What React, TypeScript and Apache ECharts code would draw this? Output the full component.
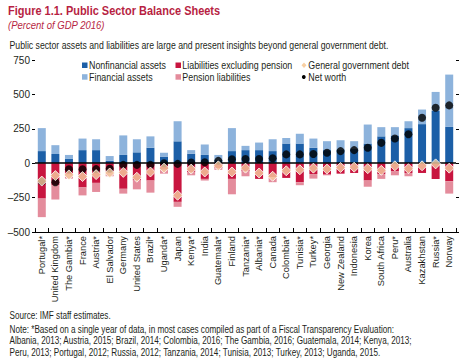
import React, { useEffect, useRef } from "react";
import * as echarts from "echarts";

const countries = [
  "Portugal*", "United Kingdom", "The Gambia*", "France", "Austria*", "El Salvador",
  "Germany", "United States", "Brazil*", "Uganda*", "Japan", "Kenya*", "India",
  "Guatemala*", "Finland", "Tanzania*", "Albania*", "Canada", "Colombia*", "Tunisia*",
  "Turkey*", "Georgia", "New Zealand", "Indonesia", "Korea", "South Africa", "Peru*",
  "Australia", "Kazakhstan", "Russia*", "Norway",
];
const nonfinancialAssets = [88, 67, 31, 95, 95, 17, 60, 79, 112, 48, 159, 69, 60, 24, 88, 95, 95, 88, 143, 143, 112, 95, 100, 107, 143, 195, 202, 255, 284, 380, 264];
const financialAssets = [167, 64, 29, 84, 79, 35, 142, 95, 83, 28, 146, 26, 76, 36, 167, 31, 55, 86, 40, 71, 67, 65, 67, 53, 138, 67, 60, 50, 106, 138, 380];
const liabilitiesExPension = [-257, -158, -83, -176, -143, -60, -186, -126, -126, -48, -281, -64, -114, -36, -114, -60, -114, -102, -107, -138, -79, -83, -76, -71, -126, -79, -60, -71, -71, -115, -131];
const pensionLiabilities = [-135, -106, -29, -58, -66, -35, -35, -64, -88, -28, -36, -24, -12, -12, -112, -35, 0, -36, 0, -22, -33, -5, 0, 0, -45, -35, -28, -24, 0, 0, -90];
const govDebt = [-130, -90, -85, -97, -83, -71, -67, -102, -64, -36, -233, -43, -64, -19, -64, -36, -71, -95, -55, -48, -36, -43, -31, -29, -40, -52, -19, -40, -19, -5, -36];
const netWorth = [-133, -138, -44, -44, -43, -40, -12, -12, -12, 0, -5, 5, 7, 17, 29, 31, 31, 36, 64, 64, 67, 76, 88, 95, 112, 148, 179, 210, 330, 403, 420];
const yTicks = { min: -500, max: 750, interval: 250 };

const SANS = "'Liberation Sans', Arial, sans-serif";
const TXT = "#231f20";
const CRIMSON = "#b71f43";
const C_NONFIN = "#1c5fa7";
const C_FIN = "#8db3dc";
const C_LIAB = "#c8153f";
const C_PENS = "#e48c9c";
const C_DEBT = "#f8cfa2";

function narrowText(x: number, y: number, text: string, font: string, fill: string, sx: number) {
  return {
    type: "text", x, y, scaleX: sx, silent: true,
    style: { x: 0, y: 0, text, font, fill, textAlign: "left", textVerticalAlign: "middle", align: "left", verticalAlign: "middle" },
  };
}

export default function App() {
  const ref = useRef<HTMLDivElement>(null);
  useEffect(() => {
    if (!ref.current) return;
    const chart = echarts.init(ref.current, null, { renderer: "svg" });
    const LF = `10.5px ${SANS}`;
    const LS = 0.845;
    chart.setOption({
      animation: false,
      backgroundColor: "#ffffff",
      textStyle: { fontFamily: SANS },
      grid: { left: 35, right: 12, top: 60, bottom: 131, containLabel: false },
      xAxis: {
        type: "category",
        data: countries,
        axisLine: { onZero: false, lineStyle: { color: "#000", width: 1 } },
        axisTick: { show: true, inside: true, length: 4, lineStyle: { color: "#000" } },
        axisLabel: {
          interval: 0, rotate: 90, fontFamily: SANS, fontSize: 9.3, color: TXT, margin: 4,
        },
      },
      yAxis: [
        {
          type: "value", ...yTicks,
          axisLine: { show: false },
          splitLine: { show: false },
          axisTick: { show: true, length: 3, lineStyle: { color: "#000" } },
          axisLabel: {
            fontFamily: SANS, fontSize: 10, color: TXT, margin: 5,
            formatter: (v: number) => String(v).replace("-", "\u2013"),
          },
        },
        {
          type: "value", ...yTicks, position: "right",
          axisLine: { show: false },
          splitLine: { show: false },
          axisTick: { show: true, length: 3, lineStyle: { color: "#000" } },
          axisLabel: { show: false },
        },
      ],
      series: [
        {
          name: "Nonfinancial assets", type: "bar", stack: "s", data: nonfinancialAssets,
          barWidth: 8, itemStyle: { color: C_NONFIN },
          markLine: {
            silent: true, symbol: "none", label: { show: false },
            lineStyle: { color: "#000", width: 1.5, type: "solid" },
            data: [{ yAxis: 0 }],
          },
        },
        {
          name: "Financial assets", type: "bar", stack: "s", data: financialAssets,
          barWidth: 8, itemStyle: { color: C_FIN },
        },
        {
          name: "Liabilities excluding pension", type: "bar", stack: "s", data: liabilitiesExPension,
          barWidth: 8, itemStyle: { color: C_LIAB },
        },
        {
          name: "Pension liabilities", type: "bar", stack: "s", data: pensionLiabilities,
          barWidth: 8, itemStyle: { color: C_PENS },
        },
        {
          name: "Net worth", type: "scatter", data: netWorth, symbol: "circle", symbolSize: 8,
          itemStyle: { color: "#000" }, z: 5,
        },
        {
          name: "General government debt", type: "scatter", data: govDebt, symbol: "diamond",
          symbolSize: 10, itemStyle: { color: C_DEBT, borderColor: "#fff", borderWidth: 1 }, z: 6,
        },
      ],
      graphic: [
        narrowText(8, 10.5, "Figure 1.1. Public Sector Balance Sheets", `bold 13px ${SANS}`, CRIMSON, 0.845),
        narrowText(8, 24.5, "(Percent of GDP 2016)", `italic 11.5px ${SANS}`, CRIMSON, 0.83),
        narrowText(9.5, 45.3, "Public sector assets and liabilities are large and present insights beyond general government debt.", `10.5px ${SANS}`, TXT, 0.83),
        // legend
        { type: "rect", silent: true, shape: { x: 82, y: 62.5, width: 5.5, height: 5.5 }, style: { fill: C_NONFIN } },
        narrowText(89, 65.3, "Nonfinancial assets", LF, TXT, LS),
        { type: "rect", silent: true, shape: { x: 82, y: 74.2, width: 5.5, height: 5.5 }, style: { fill: C_FIN } },
        narrowText(89, 77, "Financial assets", LF, TXT, LS),
        { type: "rect", silent: true, shape: { x: 175.5, y: 62.5, width: 5.5, height: 5.5 }, style: { fill: C_LIAB } },
        narrowText(182.3, 65.3, "Liabilities excluding pension", LF, TXT, LS),
        { type: "rect", silent: true, shape: { x: 175.5, y: 74.2, width: 5.5, height: 5.5 }, style: { fill: C_PENS } },
        narrowText(182.3, 77, "Pension liabilities", LF, TXT, LS),
        { type: "polygon", silent: true, shape: { points: [[304, 62.6], [306.5, 65.3], [304, 68], [301.5, 65.3]] }, style: { fill: C_DEBT } },
        narrowText(308.3, 65.3, "General government debt", LF, TXT, LS),
        { type: "circle", silent: true, shape: { cx: 303.8, cy: 77, r: 1.9 }, style: { fill: "#000" } },
        narrowText(308.3, 77, "Net worth", LF, TXT, LS),
        // footer
        narrowText(9.5, 315.7, "Source: IMF staff estimates.", `10px ${SANS}`, TXT, 0.815),
        narrowText(9.5, 329.3, "Note: *Based on a single year of data, in most cases compiled as part of a Fiscal Transparency Evaluation:", `10px ${SANS}`, TXT, 0.815),
        narrowText(9.5, 340.9, "Albania, 2013; Austria, 2015; Brazil, 2014; Colombia, 2016; The Gambia, 2016; Guatemala, 2014; Kenya, 2013;", `10px ${SANS}`, TXT, 0.815),
        narrowText(9.5, 352.3, "Peru, 2013; Portugal, 2012; Russia, 2012; Tanzania, 2014; Tunisia, 2013; Turkey, 2013; Uganda, 2015.", `10px ${SANS}`, TXT, 0.815),
      ],
    });
    return () => chart.dispose();
  }, []);
  return <div ref={ref} style={{ width: 468, height: 363, position: "absolute", left: 0, top: 0 }} />;
}
